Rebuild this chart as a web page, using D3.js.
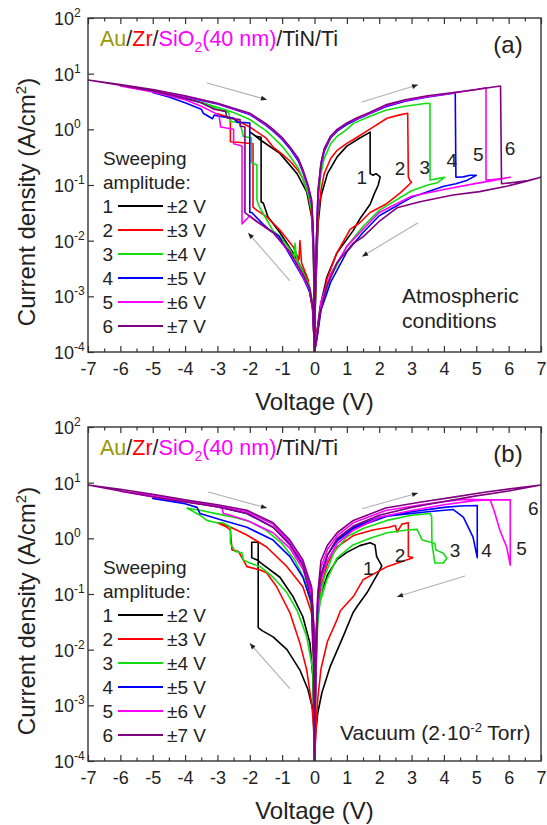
<!DOCTYPE html>
<html>
<head>
<meta charset="utf-8">
<script src="https://cdn.jsdelivr.net/npm/d3@7"></script>
<style>
  body { margin: 0; background: #fff; }
  svg { display: block; font-family: "Liberation Sans", Arial, sans-serif; }
</style>
</head>
<body>
<div id="chart"></div>
<script>
// ----- data: [voltage (V), current density (A/cm2)] -----

// (a) atmospheric conditions
const atm1 = [[0,1e-4],[0.02,5e-4],[0.06,3e-3],[0.11,0.02],[0.2,0.063],[0.4,0.16],[0.7,0.32],[1.0,0.5],[1.4,0.7],[1.72,0.89],[1.72,0.16],[1.81,0.15],[1.9,0.16],[2.03,0.14],[1.97,0.1],[1.85,0.07],[1.72,0.045],[1.41,0.025],[1.19,0.015],[0.69,0.006],[0.38,0.0022],[0.17,6.3e-4],[0.06,2e-4],[0,1e-4],
  [-0.05,6e-4],[-0.24,2.2e-3],[-0.66,6e-3],[-1.07,0.014],[-1.44,0.027],[-1.58,0.047],[-1.65,0.05],[-1.65,0.72],[-1.8,0.75],[-2.0,0.9],
  [-1.68,0.65],[-1.07,0.37],[-0.54,0.16],[-0.24,0.075],[-0.09,0.027],[-0.03,6e-3],[0,1e-4]];
const atm2 = [[0,1e-4],[0.02,6e-4],[0.06,4e-3],[0.11,0.025],[0.2,0.08],[0.3,0.16],[0.5,0.3],[0.7,0.42],[1.0,0.56],[1.19,0.65],[1.7,1.0],[2.24,1.58],[2.6,1.8],[2.88,1.95],[2.9,0.14],[2.95,0.12],[3.0,0.112],[2.65,0.072],[2.2,0.045],[1.72,0.032],[1.4,0.021],[1.1,0.016],[0.69,0.006],[0.38,0.002],[0.17,5e-4],[0.06,2e-4],[0,1e-4],
  [-0.05,5e-4],[-0.2,2e-3],[-0.4,4e-3],[-0.45,0.01],[-0.48,4.5e-3],[-0.66,7.8e-3],[-1.07,0.0155],[-1.48,0.027],[-1.78,0.035],[-1.9,0.04],[-1.9,0.55],[-2.3,0.58],[-2.6,0.6],[-2.6,1.6],[-2.85,1.7],[-3.0,1.9],
  [-2.5,1.55],[-2.0,1.1],[-1.5,0.7],[-1.28,0.48],[-1.0,0.36],[-0.76,0.27],[-0.5,0.18],[-0.36,0.13],[-0.2,0.07],[-0.09,0.03],[-0.04,0.01],[-0.01,1e-3],[0,1e-4]];
const atm3 = [[0,1e-4],[0.02,8e-4],[0.06,7e-3],[0.11,0.05],[0.2,0.16],[0.3,0.3],[0.5,0.55],[0.7,0.75],[1.0,1.0],[1.2,1.28],[1.7,1.7],[2.2,2.2],[2.8,2.6],[3.47,2.95],[3.57,2.9],[3.57,0.123],[3.8,0.13],[4.03,0.138],[3.8,0.11],[3.5,0.1],[3.0,0.079],[2.0,0.035],[1.5,0.018],[1.0,0.0079],[0.5,0.0022],[0.2,6.3e-4],[0.08,2e-4],[0,1e-4],
  [-0.05,7e-4],[-0.15,1.5e-3],[-0.36,2.8e-3],[-0.55,4.5e-3],[-0.6,0.009],[-0.63,5e-3],[-0.76,7e-3],[-1.07,0.012],[-1.28,0.015],[-1.5,0.025],[-1.7,0.04],[-1.78,0.054],[-1.78,0.23],[-1.95,0.25],[-1.95,0.7],[-2.2,0.75],[-2.3,1.3],[-2.6,1.4],[-2.65,2.0],[-3.0,2.3],[-3.5,3.0],[-4.0,3.6],
  [-3.5,3.05],[-3.0,2.5],[-2.5,2.0],[-2.0,1.5],[-1.5,0.95],[-1.28,0.72],[-1.0,0.5],[-0.76,0.33],[-0.5,0.2],[-0.36,0.13],[-0.2,0.07],[-0.09,0.035],[-0.04,0.011],[-0.01,1.2e-3],[0,1e-4]];
const atm4 = [[0,1e-4],[0.02,1e-3],[0.06,9e-3],[0.11,0.07],[0.2,0.22],[0.3,0.4],[0.5,0.7],[0.7,0.93],[1.0,1.22],[1.3,1.5],[1.7,1.9],[2.2,2.55],[2.8,3.2],[3.5,3.8],[4.35,4.5],[4.37,0.138],[4.6,0.14],[4.8,0.15],[5.0,0.15],[4.7,0.12],[4.37,0.105],[4.0,0.095],[3.0,0.06],[2.0,0.028],[1.5,0.014],[1.0,0.0063],[0.5,0.0018],[0.2,5.6e-4],[0.08,1.8e-4],[0,1e-4],
  [-0.05,6e-4],[-0.15,1.2e-3],[-0.36,2.2e-3],[-0.76,5.5e-3],[-1.1,0.012],[-1.38,0.0155],[-1.6,0.02],[-1.94,0.032],[-2.0,0.032],[-2.0,1.3],[-2.4,1.35],[-2.5,1.6],[-2.9,1.7],[-3.1,1.8],[-3.15,1.55],[-3.44,1.95],[-3.5,2.3],[-4.0,3.0],[-4.5,3.8],[-5.0,4.6],
  [-4.5,4.3],[-4.0,3.8],[-3.0,2.85],[-2.5,2.3],[-2.0,1.85],[-1.5,1.18],[-1.28,0.93],[-1.0,0.66],[-0.76,0.45],[-0.5,0.27],[-0.36,0.17],[-0.2,0.09],[-0.09,0.047],[-0.04,0.014],[-0.01,1.4e-3],[0,1e-4]];
const atm5 = [[0,1e-4],[0.02,1e-3],[0.06,0.01],[0.11,0.075],[0.2,0.24],[0.3,0.43],[0.5,0.73],[0.7,0.97],[1.0,1.28],[1.3,1.55],[1.7,1.95],[2.2,2.65],[2.8,3.3],[3.5,3.9],[4.3,4.5],[5.0,5.2],[5.3,5.6],[5.3,0.123],[5.5,0.125],[5.8,0.13],[6.05,0.138],[5.5,0.12],[5.0,0.107],[4.0,0.083],[3.0,0.063],[2.0,0.032],[1.5,0.016],[1.0,0.0079],[0.5,0.0025],[0.2,8e-4],[0.08,2e-4],[0,1e-4],
  [-0.05,6e-4],[-0.15,1.3e-3],[-0.36,2.3e-3],[-0.76,6e-3],[-1.28,0.014],[-1.78,0.022],[-2.0,0.028],[-2.24,0.02],[-2.24,0.5],[-2.5,0.55],[-2.5,1.0],[-2.9,1.1],[-2.95,1.8],[-3.5,2.6],[-4.0,3.4],[-5.0,4.7],[-6.0,6.0],
  [-5.0,5.1],[-4.0,3.9],[-3.0,2.9],[-2.5,2.35],[-2.0,1.9],[-1.5,1.22],[-1.28,0.97],[-1.0,0.69],[-0.76,0.47],[-0.5,0.29],[-0.36,0.18],[-0.2,0.095],[-0.09,0.05],[-0.04,0.015],[-0.01,1.5e-3],[0,1e-4]];
const atm6 = [[0,1e-4],[0.02,1e-3],[0.06,0.01],[0.11,0.08],[0.2,0.25],[0.3,0.45],[0.5,0.76],[0.7,1.0],[1.0,1.3],[1.3,1.6],[1.7,2.0],[2.2,2.75],[2.8,3.4],[3.5,4.0],[4.3,4.6],[5.0,5.2],[5.75,6.0],[5.78,0.105],[6.2,0.112],[6.6,0.12],[7.0,0.138],[6.5,0.115],[5.94,0.095],[5.1,0.076],[4.28,0.066],[3.26,0.05],[2.55,0.039],[2.03,0.023],[1.5,0.0117],[1.19,0.0089],[0.69,0.004],[0.38,0.0015],[0.17,5e-4],[0.08,1.9e-4],[0,1e-4],
  [-0.05,6.5e-4],[-0.15,1.4e-3],[-0.36,2.5e-3],[-0.76,6.3e-3],[-1.28,0.014],[-1.78,0.022],[-2.15,0.032],[-2.15,1.1],[-2.3,1.15],[-2.3,1.5],[-2.7,1.6],[-2.75,2.1],[-3.1,2.3],[-3.5,3.0],[-4.0,3.6],[-5.0,4.9],[-6.0,6.2],[-7.0,7.7],
  [-6.0,6.4],[-5.0,5.2],[-4.0,4.0],[-3.0,2.95],[-2.5,2.4],[-2.0,1.95],[-1.5,1.26],[-1.28,1.0],[-1.0,0.71],[-0.76,0.48],[-0.5,0.3],[-0.36,0.19],[-0.2,0.1],[-0.09,0.054],[-0.04,0.016],[-0.01,1.6e-3],[0,1e-4]];

// (b) vacuum
const vac1 = [[0,1e-4],[0.03,3e-3],[0.05,0.01],[0.1,0.04],[0.2,0.1],[0.4,0.22],[0.7,0.42],[1.0,0.56],[1.4,0.74],[1.72,0.83],[1.87,0.76],[1.92,0.47],[2.08,0.32],[1.97,0.24],[1.62,0.105],[1.31,0.059],[1.19,0.046],[0.88,0.017],[0.48,4.9e-3],[0.23,1.7e-3],[0.1,7.2e-4],[0.03,3e-4],[0,1e-4],
  [-0.02,3e-4],[-0.05,8.3e-4],[-0.2,1.9e-3],[-0.45,4.3e-3],[-0.85,0.01],[-1.28,0.017],[-1.62,0.022],[-1.74,0.025],[-1.74,0.85],[-1.94,0.85],[-1.94,0.45],[-1.74,0.4],[-1.68,0.37],
  [-1.07,0.2],[-0.66,0.089],[-0.36,0.039],[-0.14,0.013],[-0.05,3.2e-3],[0,1e-4]];
const vac2 = [[0,1e-4],[0.02,5e-4],[0.05,4e-3],[0.1,0.05],[0.2,0.14],[0.4,0.35],[0.7,0.7],[1.2,1.12],[1.8,1.41],[2.3,1.58],[2.5,1.7],[2.55,1.3],[2.62,1.5],[2.7,1.8],[2.9,1.9],[2.9,0.47],[3.04,0.45],[2.24,0.31],[1.5,0.18],[1.2,0.09],[0.8,0.05],[0.7,0.035],[0.4,0.014],[0.2,4.5e-3],[0.1,1.3e-3],[0.05,4e-4],[0,1e-4],
  [-0.02,4e-4],[-0.09,1.1e-3],[-0.24,4.3e-3],[-0.45,0.013],[-0.76,0.046],[-1.17,0.135],[-1.48,0.24],[-1.68,0.27],[-2.09,0.31],[-2.2,0.41],[-2.35,0.58],[-2.55,0.62],[-2.6,1.41],[-2.7,1.58],[-3.0,1.9],
  [-2.7,1.7],[-2.09,1.15],[-1.48,0.7],[-0.85,0.31],[-0.36,0.135],[-0.09,0.046],[-0.02,8.7e-3],[0,1e-4]];
const vac3 = [[0,1e-4],[0.02,6e-4],[0.05,5e-3],[0.1,0.03],[0.17,0.07],[0.38,0.18],[0.69,0.44],[1.19,0.76],[1.72,1.0],[2.24,1.26],[2.86,1.41],[3.17,1.45],[3.33,0.93],[3.72,0.81],[3.75,0.62],[3.98,0.54],[4.09,0.44],[3.98,0.36],[3.72,0.36],[3.63,0.81],[3.62,2.45],[3.57,2.8],[3.0,2.6],[2.24,2.1],[1.5,1.5],[1.0,1.07],[0.6,0.56],[0.3,0.2],[0.1,0.05],[0.02,3e-3],[0,1e-4],
  [-0.02,1e-3],[-0.05,4.3e-3],[-0.24,0.017],[-0.54,0.051],[-0.85,0.105],[-1.28,0.2],[-1.68,0.31],[-2.0,0.36],[-2.2,0.41],[-2.24,0.55],[-2.45,0.58],[-2.6,0.81],[-2.6,1.6],[-2.82,1.9],[-3.02,1.9],[-3.33,2.1],[-3.54,2.6],[-3.94,3.5],
  [-3.5,3.16],[-3.0,2.75],[-2.5,2.4],[-2.0,2.0],[-1.5,1.41],[-1.0,0.8],[-0.6,0.4],[-0.3,0.18],[-0.1,0.063],[-0.03,0.01],[0,1e-4]];
const vac4 = [[0,1e-4],[0.02,8e-4],[0.05,7e-3],[0.1,0.06],[0.2,0.22],[0.4,0.5],[0.7,0.9],[1.2,1.5],[2.24,2.5],[3.0,2.8],[3.5,3.0],[4.28,3.3],[4.6,2.4],[4.9,1.05],[5.03,0.45],[5.03,3.9],[4.5,3.8],[4.0,3.6],[3.0,3.0],[2.0,2.4],[1.2,1.6],[0.7,0.95],[0.4,0.5],[0.2,0.2],[0.1,0.07],[0.03,0.01],[0,1e-4],
  [-0.02,0.01],[-0.09,0.069],[-0.36,0.2],[-0.76,0.47],[-1.28,0.93],[-2.09,1.58],[-2.82,2.1],[-3.54,2.8],[-3.63,3.6],[-4.0,4.2],[-5.0,5.2],
  [-4.0,4.6],[-3.0,3.7],[-2.09,2.8],[-1.28,1.58],[-0.76,0.8],[-0.36,0.35],[-0.09,0.11],[-0.02,0.02],[0,1e-4]];
const vac5 = [[0,1e-4],[0.02,1e-3],[0.05,9e-3],[0.1,0.09],[0.2,0.3],[0.4,0.63],[0.7,1.12],[1.2,1.9],[2.2,3.16],[3.3,4.0],[4.3,4.8],[4.6,5.0],[5.5,4.9],[6.05,4.9],[6.05,0.33],[5.94,0.69],[5.73,1.4],[5.55,3.16],[5.43,4.9],[5.0,4.8],[4.0,4.0],[3.0,3.16],[2.0,2.4],[1.2,1.4],[0.7,0.8],[0.4,0.4],[0.2,0.18],[0.1,0.063],[0.03,0.01],[0,1e-4],
  [-0.02,0.012],[-0.09,0.1],[-0.36,0.28],[-0.76,0.66],[-1.28,1.26],[-2.09,2.1],[-2.7,2.7],[-2.82,2.8],[-2.85,3.5],[-3.5,4.2],[-4.5,5.0],[-6.0,7.0],
  [-5.0,6.0],[-4.0,4.7],[-3.0,3.8],[-2.09,3.0],[-1.28,1.78],[-0.76,0.85],[-0.36,0.37],[-0.09,0.126],[-0.02,0.025],[0,1e-4]];
const vac6 = [[0,1e-4],[0.02,1e-3],[0.05,0.01],[0.1,0.1],[0.2,0.4],[0.4,0.75],[0.7,1.26],[1.2,2.1],[2.2,3.5],[3.3,4.5],[4.3,5.5],[5.3,6.8],[6.3,8.1],[7.0,9.1],
  [6.0,7.1],[5.0,5.8],[4.0,4.6],[3.0,3.6],[2.0,2.6],[1.2,1.66],[0.7,1.0],[0.4,0.5],[0.2,0.22],[0.1,0.08],[0.03,0.01],[0,1e-4],
  [-0.02,5e-3],[-0.05,0.01],[-0.1,0.08],[-0.36,0.32],[-0.76,0.76],[-1.28,1.58],[-2.09,2.8],[-3.0,3.7],[-4.0,4.5],[-5.0,5.6],[-6.0,7.1],[-7.0,9.1],
  [-6.0,7.6],[-5.0,6.2],[-4.0,4.9],[-3.0,4.0],[-2.09,3.2],[-1.28,1.9],[-0.76,0.93],[-0.36,0.41],[-0.09,0.135],[-0.02,0.025],[0,1e-4]];

// legend / labels
const curveNames = ["1", "2", "3", "4", "5", "6"];
const amplitudes = ["±2 V", "±3 V", "±4 V", "±5 V", "±6 V", "±7 V"];
const colors = ["#000000", "#ff0000", "#11dd11", "#0000ff", "#ff00ff", "#800080"];

// ticks
const xMajor = [-7, -6, -5, -4, -3, -2, -1, 0, 1, 2, 3, 4, 5, 6, 7];
const xMinor = [-6.5, -5.5, -4.5, -3.5, -2.5, -1.5, -0.5, 0.5, 1.5, 2.5, 3.5, 4.5, 5.5, 6.5];
const yDecades = [1e-4, 1e-3, 1e-2, 1e-1, 1e0, 1e1, 1e2];
const yExponents = ["-4", "-3", "-2", "-1", "0", "1", "2"];

// sweep direction arrows [from, to] and curve-number label spots, in data units
const atmArrows = [[[-3.32, 6.8], [-1.47, 3.4]], [[1.47, 3.1], [3.2, 6.3]], [[3.2, 0.021], [1.47, 0.0052]], [[-0.76, 0.0019], [-2.05, 0.0138]]];
const vacArrows = [[[-3.29, 6.8], [-1.47, 3.5]], [[1.47, 3.4], [3.2, 6.5]], [[4.65, 0.21], [2.55, 0.089]], [[-0.76, 0.002], [-2.0, 0.013]]];
const atmNumberSpots = [[1.46, 0.14], [2.64, 0.2], [3.41, 0.21], [4.24, 0.28], [5.06, 0.35], [6.04, 0.46]];
const vacNumberSpots = [[1.66, 0.29], [2.64, 0.5], [4.34, 0.62], [5.32, 0.62], [6.4, 0.66], [6.76, 3.5]];

// ----- drawing -----
const svg = d3.select("#chart").append("svg")
    .attr("width", 547)
    .attr("height", 825);

svg.append("defs").append("marker")
    .attr("id", "head")
    .attr("viewBox", "0 0 10 10")
    .attr("refX", 10).attr("refY", 5)
    .attr("markerWidth", 8).attr("markerHeight", 6)
    .attr("markerUnits", "userSpaceOnUse")
    .attr("orient", "auto")
    .append("path")
    .attr("d", "M0,1 L10,5 L0,9 Z")
    .attr("fill", "#222");

const left = 88, right = 541;

const panels = [
    { id: "a", top: 18, bottom: 352, curves: [atm1, atm2, atm3, atm4, atm5, atm6], arrows: atmArrows, spots: atmNumberSpots, letter: "(a)" },
    { id: "b", top: 427, bottom: 761, curves: [vac1, vac2, vac3, vac4, vac5, vac6], arrows: vacArrows, spots: vacNumberSpots, letter: "(b)" }
];

panels.forEach(p => drawPanel(p));

function drawPanel(p) {
    const x = d3.scaleLinear().domain([-7, 7]).range([left, right]);
    const y = d3.scaleLog().domain([1e-4, 1e2]).range([p.bottom, p.top]);
    const g = svg.append("g");

    g.append("clipPath").attr("id", "clip-" + p.id)
        .append("rect")
        .attr("x", left).attr("y", p.top)
        .attr("width", right - left).attr("height", p.bottom - p.top);

    // arrows (under the curves)
    g.append("g").selectAll("line")
        .data(p.arrows)
        .join("line")
        .attr("x1", d => x(d[0][0])).attr("y1", d => y(d[0][1]))
        .attr("x2", d => x(d[1][0])).attr("y2", d => y(d[1][1]))
        .attr("stroke", "#b0b0b0")
        .attr("stroke-width", 1.1)
        .attr("marker-end", "url(#head)");

    // curves
    const line = d3.line()
        .x(d => x(d[0]))
        .y(d => y(d[1]));

    g.append("g")
        .attr("clip-path", `url(#clip-${p.id})`)
        .selectAll("path")
        .data(p.curves)
        .join("path")
        .attr("d", line)
        .attr("fill", "none")
        .attr("stroke", (d, i) => colors[i])
        .attr("stroke-width", 1.6)
        .attr("stroke-linejoin", "round");

    // axes
    const bottomAxis = g.append("g")
        .attr("transform", `translate(0,${p.bottom})`)
        .call(d3.axisBottom(x).tickValues(xMajor).tickSizeInner(-6).tickSizeOuter(0).tickPadding(10).tickFormat(d => String(d)));
    bottomAxis.selectAll("text")
        .attr("font-family", "Liberation Sans, Arial, sans-serif")
        .attr("font-size", 18)
        .attr("fill", "#222");

    g.append("g")
        .attr("transform", `translate(0,${p.bottom})`)
        .call(d3.axisBottom(x).tickValues(xMinor).tickSizeInner(-3.5).tickSizeOuter(0).tickFormat(""));
    g.append("g")
        .attr("transform", `translate(0,${p.top})`)
        .call(d3.axisTop(x).tickValues(xMajor).tickSizeInner(-6).tickSizeOuter(0).tickFormat(""));
    g.append("g")
        .attr("transform", `translate(0,${p.top})`)
        .call(d3.axisTop(x).tickValues(xMinor).tickSizeInner(-3.5).tickSizeOuter(0).tickFormat(""));
    g.append("g")
        .attr("transform", `translate(${left},0)`)
        .call(d3.axisLeft(y).tickValues(yDecades).tickSizeInner(-6).tickSizeOuter(0).tickFormat(""));

    g.selectAll(".domain").remove();
    g.selectAll(".tick line").attr("stroke", "#333").attr("stroke-width", 1.2);

    // y tick labels with superscript exponents
    const yl = g.append("g").selectAll("text")
        .data(yDecades)
        .join("text")
        .attr("x", 54)
        .attr("y", d => y(d) + 7)
        .attr("font-size", 18)
        .attr("fill", "#222");
    yl.append("tspan").text("10");
    yl.append("tspan")
        .attr("dy", -8)
        .attr("font-size", 12)
        .text((d, i) => yExponents[i]);

    // frame
    g.append("rect")
        .attr("x", left).attr("y", p.top)
        .attr("width", right - left).attr("height", p.bottom - p.top)
        .attr("fill", "none")
        .attr("stroke", "#333")
        .attr("stroke-width", 1.4);

    // axis titles
    g.append("text")
        .attr("x", (left + right) / 2)
        .attr("y", p.bottom + 58)
        .attr("text-anchor", "middle")
        .attr("font-size", 24)
        .attr("fill", "#222")
        .text("Voltage (V)");

    const yt = g.append("text")
        .attr("transform", `translate(35,${p.top + 184}) rotate(-90)`)
        .attr("text-anchor", "middle")
        .attr("font-size", 24)
        .attr("fill", "#222");
    yt.append("tspan").text("Current density (A/cm");
    yt.append("tspan").attr("dy", -9).attr("font-size", 15).text("2");
    yt.append("tspan").attr("dy", 9).text(")");

    // structure label
    const st = g.append("text")
        .attr("x", 100)
        .attr("y", p.top + 28)
        .attr("font-size", 21.5);
    st.append("tspan").attr("fill", "#999900").text("Au");
    st.append("tspan").attr("fill", "#222").text("/");
    st.append("tspan").attr("fill", "#ff0000").text("Zr");
    st.append("tspan").attr("fill", "#222").text("/");
    st.append("tspan").attr("fill", "#ff00ff").text("SiO");
    st.append("tspan").attr("fill", "#ff00ff").attr("dy", 6).attr("font-size", 14).text("2");
    st.append("tspan").attr("fill", "#ff00ff").attr("dy", -6).text("(40 nm)");
    st.append("tspan").attr("fill", "#222").text("/TiN/Ti");

    g.append("text")
        .attr("x", 508).attr("y", p.top + 35)
        .attr("text-anchor", "middle")
        .attr("font-size", 24)
        .attr("fill", "#222")
        .text(p.letter);

    // curve numbers
    g.append("g").selectAll("text")
        .data(p.spots)
        .join("text")
        .attr("x", d => x(d[0]))
        .attr("y", d => y(d[1]))
        .attr("dy", "0.35em")
        .attr("text-anchor", "middle")
        .attr("font-size", 19)
        .attr("fill", "#222")
        .text((d, i) => curveNames[i]);

    // legend
    const lg = g.append("g").attr("font-size", 19).attr("fill", "#222");
    lg.append("text").attr("x", 103).attr("y", p.top + 147).text("Sweeping");
    lg.append("text").attr("x", 103).attr("y", p.top + 171).text("amplitude:");
    const rows = lg.selectAll("g.row")
        .data(amplitudes)
        .join("g")
        .attr("class", "row")
        .attr("transform", (d, i) => `translate(0,${p.top + 195 + i * 24})`);
    rows.append("text").attr("x", 113).attr("text-anchor", "end").text((d, i) => curveNames[i]);
    rows.append("line")
        .attr("x1", 118).attr("x2", 163)
        .attr("y1", -7).attr("y2", -7)
        .attr("stroke", (d, i) => colors[i])
        .attr("stroke-width", 2);
    rows.append("text").attr("x", 167).text(d => d);
}

// condition notes
svg.append("text").attr("x", 402).attr("y", 303).attr("font-size", 21).attr("fill", "#222").text("Atmospheric");
svg.append("text").attr("x", 402).attr("y", 328).attr("font-size", 21).attr("fill", "#222").text("conditions");

const vt = svg.append("text").attr("x", 340).attr("y", 740).attr("font-size", 21).attr("fill", "#222");
vt.append("tspan").text("Vacuum (2·10");
vt.append("tspan").attr("dy", -8).attr("font-size", 13).text("-2");
vt.append("tspan").attr("dy", 8).text(" Torr)");
</script>
</body>
</html>
